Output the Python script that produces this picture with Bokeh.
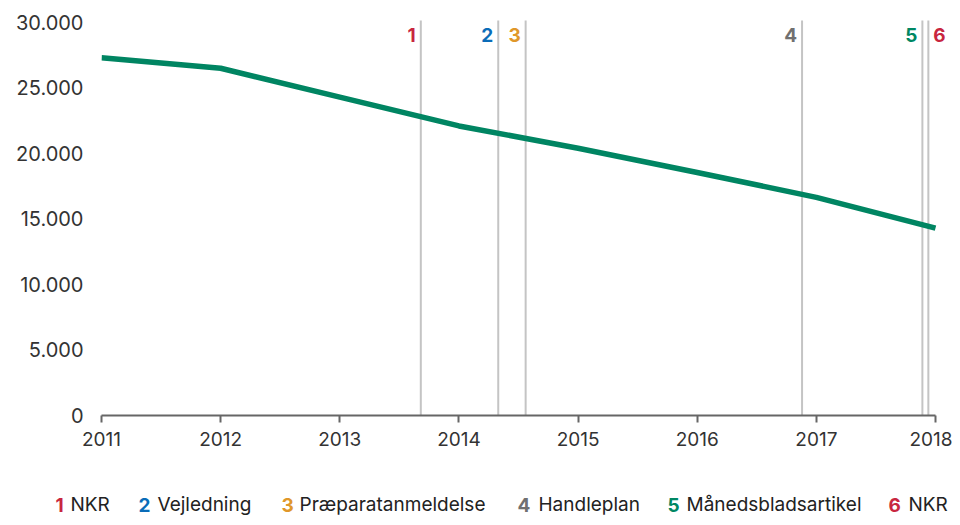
from bokeh.plotting import figure
from bokeh.layouts import column
from bokeh.models import Range1d, FixedTicker
from bokeh.core.properties import value
from bokeh.embed import file_html
from bokeh.resources import INLINE

years = [2011, 2012, 2013, 2014, 2015, 2016, 2017, 2018]
counts = [27300, 26500, 24300, 22100, 20400, 18550, 16650, 14300]

event_nums = ["1", "2", "3", "4", "5", "6"]
event_names = ["NKR", "Vejledning", "Præparatanmeldelse", "Handleplan", "Månedsbladsartikel", "NKR"]
event_dates = [2013.68, 2014.33, 2014.56, 2016.88, 2017.89, 2017.94]
event_colors = ["#c8263f", "#0a6cb8", "#e0972a", "#707070", "#008763", "#c8263f"]

y_ticks = [0, 5000, 10000, 15000, 20000, 25000, 30000]
y_tick_labels = ["0", "5.000", "10.000", "15.000", "20.000", "25.000", "30.000"]

FONT = "Inter"
W = 952
LEFT = 101
PX_PER_YEAR = (937 - 103) / 7.0
x_end = 2018 + (W - (LEFT + 7 * PX_PER_YEAR)) / PX_PER_YEAR

p = figure(width=W, height=474, output_backend="svg", toolbar_location=None,
           x_range=Range1d(2011, x_end), y_range=Range1d(0, 30300),
           min_border_left=LEFT, min_border_right=0, min_border_top=18, min_border_bottom=59)
p.frame_align = False
p.outline_line_color = None
p.xgrid.visible = False
p.ygrid.visible = False
p.background_fill_color = "white"
p.border_fill_color = "white"

# event vertical lines
p.segment(x0=event_dates, y0=[0] * 6, x1=event_dates, y1=[30150] * 6,
          line_color="#c4c4c4", line_width=2)
# labels: 1-5 to the left of their line, 6 to the right
p.text(x=event_dates[:5], y=[29050] * 5, text=event_nums[:5], text_color=event_colors[:5],
       text_align="right", text_baseline="alphabetic", x_offset=-5,
       text_font=value(FONT), text_font_style="bold", text_font_size="19px")
p.text(x=event_dates[5:], y=[29050], text=event_nums[5:], text_color=event_colors[5:],
       text_align="left", text_baseline="alphabetic", x_offset=5,
       text_font=value(FONT), text_font_style="bold", text_font_size="19px")

p.line(years, counts, line_color="#008562", line_width=5.5)

# axes
p.xaxis.ticker = FixedTicker(ticks=years)
p.xaxis.bounds = (years[0], years[-1])
p.xaxis.axis_line_color = "#666666"
p.xaxis.axis_line_width = 2
p.xaxis.major_tick_line_color = "#666666"
p.xaxis.major_tick_line_width = 2
p.xaxis.major_tick_out = 7
p.xaxis.major_tick_in = 0
p.xaxis.minor_tick_line_color = None
p.xaxis.major_label_standoff = 9
p.xaxis.major_label_text_font = FONT
p.xaxis.major_label_text_font_size = "19px"
p.xaxis.major_label_text_color = "#333333"

p.yaxis.ticker = FixedTicker(ticks=y_ticks)
p.yaxis.major_label_overrides = {t: l for t, l in zip(y_ticks, y_tick_labels)}
p.yaxis.axis_line_color = None
p.yaxis.major_tick_line_color = None
p.yaxis.major_tick_out = 0
p.yaxis.major_tick_in = 0
p.yaxis.minor_tick_line_color = None
p.yaxis.minor_tick_out = 0
p.yaxis.major_label_standoff = 18
p.yaxis.major_label_text_font = FONT
p.yaxis.major_label_text_font_size = "20px"
p.yaxis.major_label_text_color = "#333333"

# legend strip below the chart
num_x = [55, 138, 281, 517, 667, 888]
name_x = [70, 157, 299, 538, 686, 908]
lg = figure(width=W, height=43, output_backend="svg", toolbar_location=None,
            x_range=Range1d(0, W), y_range=Range1d(0, 43),
            x_axis_location=None, y_axis_location=None,
            min_border_left=0, min_border_right=0, min_border_top=0, min_border_bottom=0)
lg.frame_align = False
lg.grid.visible = False
lg.outline_line_color = None
lg.text(x=num_x, y=[13] * 6, text=event_nums, text_color=event_colors,
        text_font=value(FONT), text_font_style="bold", text_font_size="19px",
        text_baseline="alphabetic", text_align="left")
lg.text(x=name_x, y=[13] * 6, text=event_names, text_color="#222222",
        text_font=value(FONT), text_font_size="19px",
        text_baseline="alphabetic", text_align="left")

layout = column(p, lg, spacing=0)
open("out.html", "w").write(file_html(layout, INLINE))
